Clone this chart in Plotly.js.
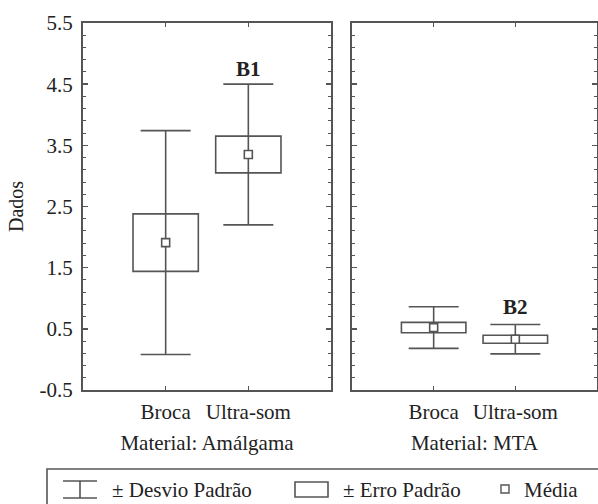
<!DOCTYPE html>
<html>
<head>
<meta charset="utf-8">
<script src="https://cdn.plot.ly/plotly-3.0.1.min.js"></script>
<style>html,body{margin:0;padding:0;background:#fff;}#chart{width:598px;height:504px;}</style>
</head>
<body>
<div id="chart"></div>
<script>
// ---- data ----
const categories = ['Broca', 'Ultra-som'];
const amalgamaMean = [1.91, 3.35];
const amalgamaSE   = [0.47, 0.30];
const amalgamaSD   = [1.83, 1.15];
const mtaMean = [0.52, 0.33];
const mtaSE   = [0.085, 0.065];
const mtaSD   = [0.34, 0.24];
const panelTitles = ['Material: Amálgama', 'Material: MTA'];
const groupLabels = ['B1', 'B2'];
const yTicks = [-0.5, 0.5, 1.5, 2.5, 3.5, 4.5, 5.5];
const legendLabels = ['± Desvio Padrão', '± Erro Padrão', 'Média'];

const FONT = "'Liberation Serif', 'Times New Roman', serif";
const LC = '#555';
const TC = '#222';

const W = 598, H = 504, ML = 83, MR = 1, MT = 23, MB = 114;
const PW = W - ML - MR, PH = H - MT - MB;
const px = v => (v - ML) / PW;
const py = v => (H - MB - v) / PH;

function panelTraces(mean, se, sd, xa, ya) {
  return [
    {
      type: 'bar', x: categories,
      base: mean.map((m, i) => m - se[i]),
      y: se.map(s => 2 * s),
      width: 0.79,
      marker: {color: 'rgba(255,255,255,0)', line: {color: LC, width: 1.6}},
      xaxis: xa, yaxis: ya, showlegend: false, hoverinfo: 'skip'
    },
    {
      type: 'scatter', mode: 'markers', x: categories, y: mean,
      error_y: {type: 'data', array: sd, visible: true, color: LC, thickness: 1.6, width: 25},
      marker: {symbol: 'square', size: 8, color: 'white', line: {color: LC, width: 1.6}},
      xaxis: xa, yaxis: ya, showlegend: false, hoverinfo: 'skip'
    }
  ];
}

const data = [
  ...panelTraces(amalgamaMean, amalgamaSE, amalgamaSD, 'x', 'y'),
  ...panelTraces(mtaMean, mtaSE, mtaSD, 'x2', 'y2')
];

const xBase = {
  type: 'category', range: [-1, 2], showline: true, linecolor: LC, linewidth: 2,
  mirror: 'ticks', ticks: 'inside', ticklen: 4, tickcolor: LC, tickwidth: 1.5,
  showgrid: false, zeroline: false, fixedrange: true,
  tickfont: {family: FONT, size: 21, color: TC}, ticklabelstandoff: 2
};
const yBase = {
  range: [-0.5, 5.5], tickvals: yTicks, ticktext: yTicks.map(v => v.toFixed(1)),
  showline: true, linecolor: LC, linewidth: 2, mirror: 'ticks',
  ticks: 'inside', ticklen: 5, tickcolor: LC, tickwidth: 1.5,
  minor: {tick0: -0.5, dtick: 0.2, ticks: 'inside', ticklen: 3, tickcolor: LC, tickwidth: 1},
  showgrid: false, zeroline: false, fixedrange: true,
  tickfont: {family: FONT, size: 21, color: TC}
};

const d1 = [0, px(331)], d2 = [px(352), 1];

const layout = {
  width: W, height: H,
  margin: {l: ML, r: MR, t: MT, b: MB},
  paper_bgcolor: 'white', plot_bgcolor: 'white',
  showlegend: false,
  font: {family: FONT, color: TC},
  xaxis: Object.assign({}, xBase, {domain: d1, anchor: 'y',
    title: {text: panelTitles[0], font: {family: FONT, size: 21, color: TC}, standoff: 12}}),
  xaxis2: Object.assign({}, xBase, {domain: d2, anchor: 'y2',
    title: {text: panelTitles[1], font: {family: FONT, size: 21, color: TC}, standoff: 12}}),
  yaxis: Object.assign({}, yBase, {anchor: 'x', ticklabelstandoff: 4,
    title: {text: 'Dados', font: {family: FONT, size: 20, color: TC}, standoff: 11}}),
  yaxis2: Object.assign({}, yBase, {anchor: 'x2', matches: 'y', showticklabels: false}),
  annotations: [
    {xref: 'x', yref: 'y', x: categories[1], y: amalgamaMean[1] + amalgamaSD[1],
     text: '<b>' + groupLabels[0] + '</b>', showarrow: false, yanchor: 'bottom', yshift: 1,
     font: {family: FONT, size: 21, color: TC}},
    {xref: 'x2', yref: 'y2', x: categories[1], y: mtaMean[1] + mtaSD[1],
     text: '<b>' + groupLabels[1] + '</b>', showarrow: false, yanchor: 'bottom', yshift: 4,
     font: {family: FONT, size: 21, color: TC}},
    {xref: 'paper', yref: 'paper', x: px(110), y: py(490), xanchor: 'left', yanchor: 'middle',
     text: legendLabels[0], showarrow: false, font: {family: FONT, size: 21, color: TC}},
    {xref: 'paper', yref: 'paper', x: px(341), y: py(490), xanchor: 'left', yanchor: 'middle',
     text: legendLabels[1], showarrow: false, font: {family: FONT, size: 21, color: TC}},
    {xref: 'paper', yref: 'paper', x: px(522), y: py(490), xanchor: 'left', yanchor: 'middle',
     text: legendLabels[2], showarrow: false, font: {family: FONT, size: 21, color: TC}}
  ],
  shapes: [
    {type: 'rect', xref: 'paper', yref: 'paper', x0: px(47), x1: px(640), y0: py(469), y1: py(540),
     line: {color: LC, width: 1.6}},
    {type: 'line', xref: 'paper', yref: 'paper', x0: px(63), x1: px(97), y0: py(481), y1: py(481), line: {color: LC, width: 1.6}},
    {type: 'line', xref: 'paper', yref: 'paper', x0: px(63), x1: px(97), y0: py(498), y1: py(498), line: {color: LC, width: 1.6}},
    {type: 'line', xref: 'paper', yref: 'paper', x0: px(80), x1: px(80), y0: py(481), y1: py(498), line: {color: LC, width: 1.6}},
    {type: 'rect', xref: 'paper', yref: 'paper', x0: px(295), x1: px(328), y0: py(482), y1: py(497), line: {color: LC, width: 1.6}},
    {type: 'rect', xref: 'paper', yref: 'paper', x0: px(501), x1: px(509), y0: py(485), y1: py(493), line: {color: LC, width: 1.4}}
  ]
};

Plotly.newPlot('chart', data, layout, {staticPlot: true, displayModeBar: false});
</script>
</body>
</html>
